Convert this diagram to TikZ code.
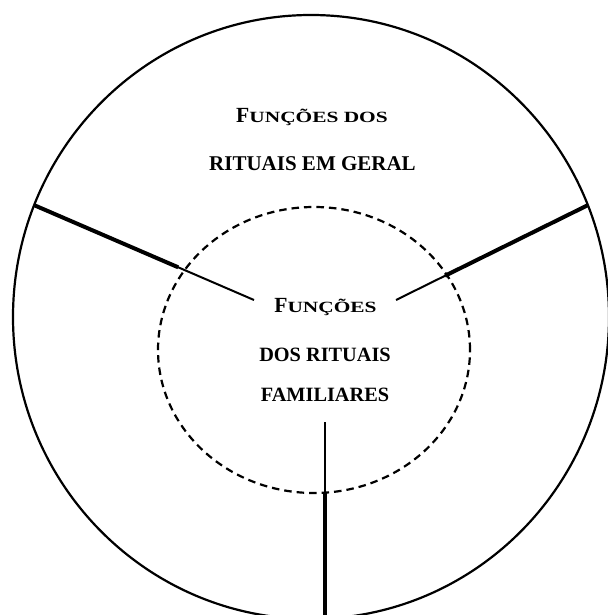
\documentclass[tikz,border=0pt]{standalone}
\usepackage{fontspec}
\setmainfont{Liberation Serif}
\usetikzlibrary{calc,shapes.geometric}
\tikzset{
    ring/.style={draw, ellipse, line width=2.2pt, inner sep=0pt, outer sep=0pt,
                 minimum width=596pt, minimum height=604pt},
    dashring/.style={draw, ellipse, line width=2.2pt, dash pattern=on 7.5pt off 5pt,
                     inner sep=0pt, outer sep=0pt, minimum width=312pt, minimum height=286pt},
    spoke/.style={line width=2pt},
    heavyspoke/.style={line width=4pt},
    caption/.style={font=\bfseries, anchor=base, inner sep=0pt},
}
\newcommand{\bigF}{{\fontsize{21.6pt}{22pt}\selectfont F}}
\newcommand{\widecaps}[1]{{\fontsize{15.6pt}{16pt}\selectfont\scalebox{1.37}[1]{#1}}}

\begin{document}
\begin{tikzpicture}[x=1pt, y=-1pt]
    \useasboundingbox (0,0) rectangle (607,615);
    \node[ring] (outer) at (311,317) {};
    \node[dashring] (inner) at (314,350) {};

    \node[caption] (general1) at (312,122.7) {\bigF\widecaps{UNÇÕES DOS}};
    \node[caption, font=\bfseries\fontsize{21pt}{22pt}\selectfont] (general2) at (312.5,170) {RITUAIS EM GERAL};
    \node[caption] (family1) at (325.5,312.7) {\bigF\widecaps{UNÇÕES}};
    \node[caption, font=\bfseries\fontsize{20.3pt}{22pt}\selectfont] (family2) at (325,361.7) {DOS RITUAIS};
    \node[caption, font=\bfseries\fontsize{20.3pt}{22pt}\selectfont] (family3) at (325,401.7) {FAMILIARES};

    \coordinate (leftend) at (254,300);
    \coordinate (rightend) at (396,300);
    \coordinate (downstart) at (325,422);
    \coordinate (downend) at (325,615);
    \draw[spoke] (outer.158) -- (leftend);
    \draw[heavyspoke] (outer.158) -- ($(outer.158)!0.655!(leftend)$);
    \draw[spoke] (outer.22) -- (rightend);
    \draw[heavyspoke] (outer.22) -- ($(outer.22)!0.744!(rightend)$);
    \draw[spoke] (downstart) -- (downend);
    \draw[heavyspoke] (inner.south -| downstart) -- (downend);
\end{tikzpicture}
\end{document}
